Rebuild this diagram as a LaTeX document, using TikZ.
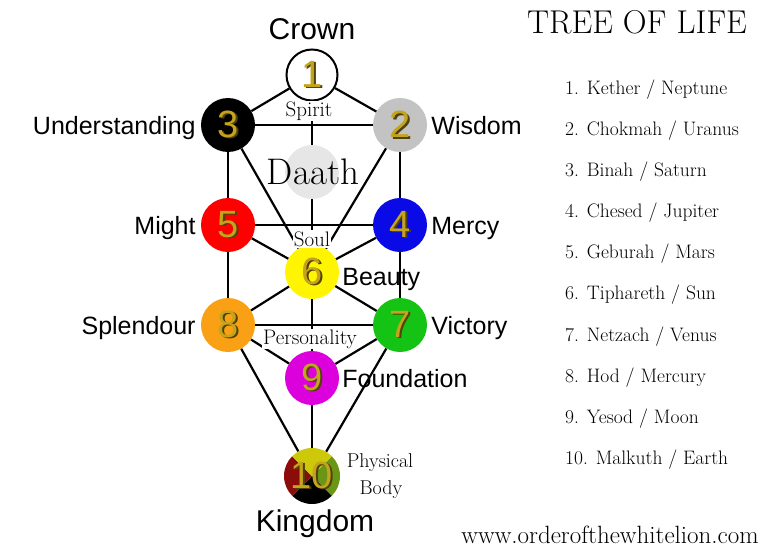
\documentclass[tikz,border=0pt]{standalone}
\usepackage{fontspec}
\newfontfamily\sansfam{Liberation Sans}
\usetikzlibrary{positioning}

\definecolor{numgold}{RGB}{196,164,28}
\definecolor{numshade}{RGB}{80,66,8}
\definecolor{hesedblue}{RGB}{10,10,230}
\definecolor{tiphyellow}{RGB}{255,245,0}
\definecolor{hodorange}{RGB}{250,160,20}
\definecolor{netzgreen}{RGB}{20,195,20}
\definecolor{yesodpink}{RGB}{220,0,220}
\definecolor{chokgray}{RGB}{195,195,195}
\definecolor{daathgray}{RGB}{230,230,230}
\definecolor{malkcitrine}{RGB}{205,200,10}
\definecolor{malkolive}{RGB}{105,150,20}
\definecolor{malkrusset}{RGB}{140,12,12}

\newcommand{\sephnum}[1]{\makebox[0pt][l]{\kern1.6pt\raisebox{-1.6pt}{\color{numshade}#1}}\textcolor{numgold}{#1}}

\tikzset{
  sephira/.style={circle, minimum size=54pt, inner sep=0pt,
    font=\sansfam\fontsize{38}{38}\selectfont},
  path/.style={line width=2.2pt, black},
  title/.style={font=\sansfam\fontsize{25}{25}\selectfont, text height=0.72em, text depth=0.21em, inner sep=0pt, yshift=-7pt},
  bigtitle/.style={font=\sansfam\fontsize{30}{30}\selectfont, text height=0.72em, text depth=0.21em, inner sep=0pt},
  veil/.style={fill=white, inner sep=1pt, font=\fontsize{21}{21}\selectfont},
  listitem/.style={anchor=west, inner sep=0pt, font=\fontsize{19.5}{19.5}\selectfont},
}

\begin{document}
\begin{tikzpicture}[x=1pt, y=-1pt]
\useasboundingbox (0,0) rectangle (768,551);

% the sephiroth
\node[sephira, draw=black, line width=2pt, fill=white, minimum size=51pt] (n1) at (312,75) {\sephnum{1}};
\node[sephira, fill=chokgray] (n2) at (400,125) {\sephnum{2}};
\node[sephira, fill=black] (n3) at (228,125) {\sephnum{3}};
\node[sephira, fill=daathgray] (daath) at (312,172) {};
\node[sephira, fill=hesedblue] (n4) at (400,225) {\sephnum{4}};
\node[sephira, fill=red] (n5) at (228,225) {\sephnum{5}};
\node[sephira, fill=tiphyellow] (n6) at (312,272) {\sephnum{6}};
\node[sephira, fill=netzgreen] (n7) at (400,325) {\sephnum{7}};
\node[sephira, fill=hodorange] (n8) at (228,325) {\sephnum{8}};
\node[sephira, fill=yesodpink] (n9) at (312,378) {\sephnum{9}};
\node[sephira, minimum size=56pt, path picture={
    \fill[malkolive] (path picture bounding box.center) -- ++(-45:40) arc[start angle=-45, end angle=45, radius=40] -- cycle;
    \fill[black] (path picture bounding box.center) -- ++(45:40) arc[start angle=45, end angle=135, radius=40] -- cycle;
    \fill[malkrusset] (path picture bounding box.center) -- ++(135:40) arc[start angle=135, end angle=225, radius=40] -- cycle;
    \fill[malkcitrine] (path picture bounding box.center) -- ++(225:40) arc[start angle=225, end angle=315, radius=40] -- cycle;
  }] (n10) at (312,476) {\sephnum{10}};

% paths
\draw[path] (n1) -- (n3);
\draw[path] (n1) -- (n2);
\draw[path] (n3) -- (n2);
\draw[path] (n1) -- (daath);
\draw[path] (n3) -- (n5);
\draw[path] (n2) -- (n4);
\draw[path] (n3) -- (n6);
\draw[path] (n2) -- (n6);
\draw[path] (daath) -- (n6);
\draw[path] (n5) -- (n4);
\draw[path] (n5) -- (n6);
\draw[path] (n4) -- (n6);
\draw[path] (n5) -- (n8);
\draw[path] (n4) -- (n7);
\draw[path] (n6) -- (n8);
\draw[path] (n6) -- (n7);
\draw[path] (n8) -- (n7);
\draw[path] (n6) -- (n9);
\draw[path] (n8) -- (n9);
\draw[path] (n7) -- (n9);
\draw[path] (n8) -- (n10);
\draw[path] (n7) -- (n10);
\draw[path] (n9) -- (n10);

% words on the tree
\node[veil] (spirit) at (309,111) {Spirit};
\node[veil] (soul) at (312,239) {Soul};
\node[veil] (personality) at (310,339) {Personality};
\node[font=\fontsize{37}{37}\selectfont, inner sep=0pt] (daathname) at (313,172) {Daath};
\node[font=\fontsize{20}{20}\selectfont, inner sep=0pt] (physical) at (380,463) {Physical};
\node[font=\fontsize{20}{20}\selectfont, inner sep=0pt] (body) at (381,490) {Body};

% names
\node[bigtitle] (crown) at (312,37) {Crown};
\node[title, left=5pt of n3] (understanding) {Understanding};
\node[title, right=4pt of n2] (wisdom) {Wisdom};
\node[title, left=5pt of n5] (might) {Might};
\node[title, right=4pt of n4] (mercy) {Mercy};
\node[title, right=3pt of n6, yshift=-4pt] (beauty) {Beauty};
\node[title, left=5pt of n8] (splendour) {Splendour};
\node[title, right=4pt of n7] (victory) {Victory};
\node[title, right=3pt of n9] (foundation) {Foundation};
\node[bigtitle] (kingdom) at (315,529) {Kingdom};

% correspondences
\node[font=\fontsize{33}{33}\selectfont, inner sep=0pt] (treetitle) at (637,22) {TREE OF LIFE};
\node[listitem] (kether) at (565,90) {1. Kether / Neptune};
\node[listitem] (chokmah) at (565,131) {2. Chokmah / Uranus};
\node[listitem] (binah) at (565,172) {3. Binah / Saturn};
\node[listitem] (chesed) at (565,213) {4. Chesed / Jupiter};
\node[listitem] (geburah) at (565,254) {5. Geburah / Mars};
\node[listitem] (tiphareth) at (565,295) {6. Tiphareth / Sun};
\node[listitem] (netzach) at (565,337) {7. Netzach / Venus};
\node[listitem] (hod) at (565,378) {8. Hod / Mercury};
\node[listitem] (yesod) at (565,419) {9. Yesod / Moon};
\node[listitem] (malkuth) at (565,460) {10. Malkuth / Earth};
\node[font=\fontsize{25}{25}\selectfont, inner sep=0pt] (website) at (610,535) {www.orderofthewhitelion.com};
\end{tikzpicture}
\end{document}
